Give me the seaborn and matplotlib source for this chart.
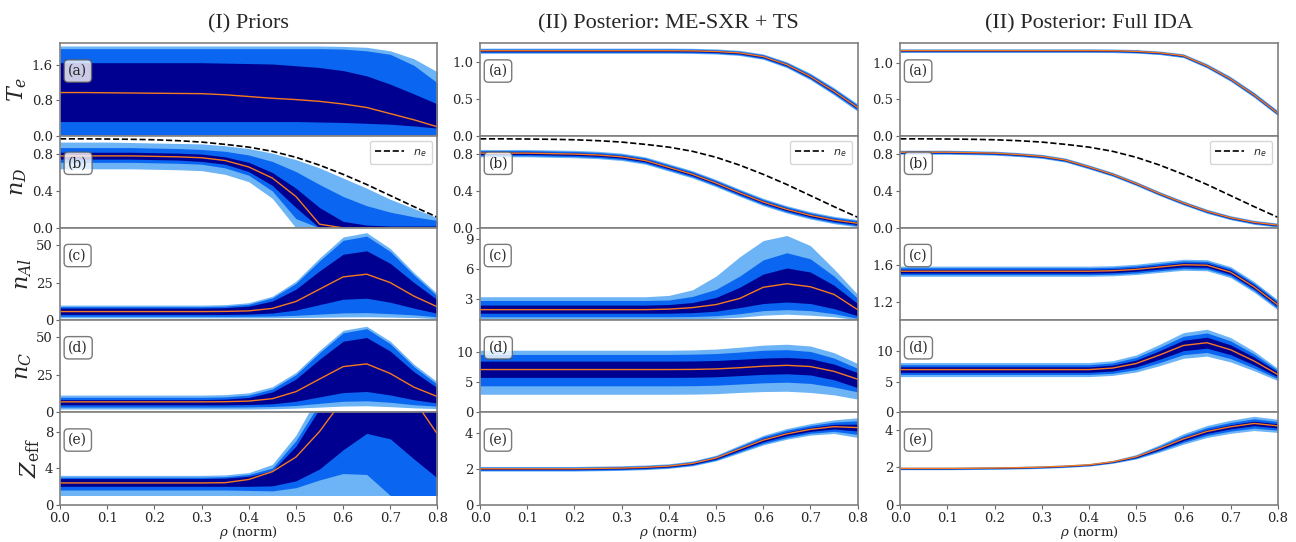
import matplotlib
matplotlib.use("Agg")
import matplotlib.pyplot as plt
import seaborn as sns
import numpy as np
from matplotlib.ticker import FormatStrFormatter

sns.set_style("white")
plt.rcParams["font.family"] = ["DejaVu Serif"]
plt.rcParams["mathtext.fontset"] = "dejavuserif"

rho = [0.0, 0.05, 0.1, 0.15, 0.2, 0.25, 0.3, 0.35, 0.4, 0.45, 0.5, 0.55, 0.6, 0.65, 0.7, 0.75, 0.8]

titles = ["(I) Priors", "(II) Posterior: ME-SXR + TS", "(II) Posterior: Full IDA"]
ylabels = ["$T_e$", "$n_D$", "$n_{Al}$", "$n_C$", "$Z_{\\rm eff}$"]
panel_tags = ["(a)", "(b)", "(c)", "(d)", "(e)"]

ne = [0.965, 0.965, 0.963, 0.96, 0.955, 0.945, 0.93, 0.905, 0.875, 0.83, 0.765, 0.68, 0.58, 0.47, 0.35, 0.23, 0.115]

# ---- priors (explicit band edges: lo3 < lo2 < lo1 < med < hi1 < hi2 < hi3)
te_pr_hi3 = [2.04, 2.04, 2.04, 2.04, 2.04, 2.04, 2.04, 2.04, 2.04, 2.04, 2.04, 2.04, 2.03, 2.01, 1.93, 1.75, 1.45]
te_pr_hi2 = [1.98, 1.98, 1.98, 1.98, 1.98, 1.98, 1.98, 1.98, 1.98, 1.98, 1.98, 1.98, 1.97, 1.93, 1.85, 1.6, 1.2]
te_pr_hi1 = [1.66, 1.66, 1.66, 1.66, 1.66, 1.66, 1.66, 1.65, 1.64, 1.63, 1.59, 1.55, 1.48, 1.36, 1.17, 0.95, 0.72]
te_pr_med = [0.98, 0.98, 0.975, 0.97, 0.965, 0.96, 0.955, 0.93, 0.89, 0.85, 0.82, 0.78, 0.72, 0.64, 0.50, 0.36, 0.20]
te_pr_lo1 = [0.32, 0.32, 0.32, 0.32, 0.32, 0.32, 0.32, 0.32, 0.32, 0.32, 0.32, 0.31, 0.30, 0.28, 0.26, 0.22, 0.17]
te_pr_lo2 = [0.0] * 17
te_pr_lo3 = [0.0] * 17

nd_pr_hi3 = [0.93, 0.93, 0.93, 0.925, 0.92, 0.915, 0.91, 0.89, 0.86, 0.81, 0.74, 0.65, 0.54, 0.43, 0.31, 0.21, 0.11]
nd_pr_hi2 = [0.87, 0.87, 0.87, 0.87, 0.865, 0.86, 0.85, 0.83, 0.79, 0.72, 0.61, 0.47, 0.34, 0.24, 0.17, 0.12, 0.08]
nd_pr_hi1 = [0.82, 0.82, 0.82, 0.82, 0.815, 0.81, 0.80, 0.77, 0.71, 0.60, 0.43, 0.22, 0.07, 0.03, 0.02, 0.02, 0.02]
nd_pr_med = [0.78, 0.78, 0.78, 0.78, 0.775, 0.77, 0.76, 0.73, 0.66, 0.54, 0.34, 0.04, 0.0, 0.0, 0.0, 0.0, 0.0]
nd_pr_lo1 = [0.745, 0.745, 0.745, 0.745, 0.74, 0.735, 0.72, 0.69, 0.61, 0.46, 0.22, 0.0, 0.0, 0.0, 0.0, 0.0, 0.0]
nd_pr_lo2 = [0.71, 0.71, 0.71, 0.71, 0.705, 0.70, 0.69, 0.65, 0.57, 0.40, 0.10, 0.0, 0.0, 0.0, 0.0, 0.0, 0.0]
nd_pr_lo3 = [0.64, 0.64, 0.64, 0.64, 0.635, 0.63, 0.62, 0.58, 0.50, 0.32, 0.0, 0.0, 0.0, 0.0, 0.0, 0.0, 0.0]

nal_pr_hi3 = [10.0, 10.0, 10.0, 10.0, 10.0, 10.0, 10.0, 10.3, 11.6, 15.9, 25.9, 41.4, 55.4, 58.3, 47.7, 31.7, 17.5]
nal_pr_hi2 = [9.0, 9.0, 9.0, 9.0, 9.0, 9.0, 9.0, 9.3, 10.6, 14.8, 24.5, 39.5, 53.2, 56.0, 45.7, 30.1, 16.0]
nal_pr_hi1 = [8.0, 8.0, 8.0, 8.0, 8.0, 8.0, 8.0, 8.3, 9.3, 12.7, 20.6, 32.8, 43.9, 46.2, 37.8, 25.1, 13.5]
nal_pr_med = [5.7, 5.7, 5.7, 5.7, 5.7, 5.7, 5.7, 5.8, 6.15, 7.8, 12.4, 20.6, 28.8, 30.6, 25.0, 16.0, 8.8]
nal_pr_lo1 = [3.8, 3.8, 3.8, 3.8, 3.8, 3.8, 3.8, 3.8, 4.0, 4.7, 6.7, 10.3, 13.9, 14.6, 11.9, 8.0, 4.5]
nal_pr_lo2 = [2.5, 2.5, 2.5, 2.5, 2.5, 2.5, 2.5, 2.5, 2.55, 2.7, 3.2, 4.0, 4.8, 5.0, 4.3, 3.5, 2.2]
nal_pr_lo3 = [1.5, 1.5, 1.5, 1.5, 1.5, 1.5, 1.5, 1.5, 1.5, 1.55, 1.7, 1.9, 2.1, 2.2, 2.0, 1.7, 1.0]

nc_pr_hi3 = [11.5, 11.5, 11.5, 11.5, 11.5, 11.5, 11.5, 11.8, 13.0, 17.1, 26.6, 41.3, 54.7, 57.4, 47.4, 32.1, 20.2]
nc_pr_hi2 = [10.0, 10.0, 10.0, 10.0, 10.0, 10.0, 10.0, 10.3, 11.5, 15.6, 25.1, 39.7, 53.0, 55.8, 45.7, 30.5, 18.6]
nc_pr_hi1 = [8.5, 8.5, 8.5, 8.5, 8.5, 8.5, 8.5, 8.8, 9.9, 13.6, 22.2, 35.4, 47.4, 49.9, 40.8, 27.1, 16.3]
nc_pr_med = [7.0, 7.0, 7.0, 7.0, 7.0, 7.0, 7.0, 7.1, 7.5, 9.1, 13.8, 22.2, 30.5, 32.3, 25.9, 16.8, 10.5]
nc_pr_lo1 = [5.0, 5.0, 5.0, 5.0, 5.0, 5.0, 5.0, 5.0, 5.2, 5.7, 7.4, 10.3, 13.2, 13.9, 11.6, 8.4, 6.2]
nc_pr_lo2 = [3.5, 3.5, 3.5, 3.5, 3.5, 3.5, 3.5, 3.5, 3.6, 3.9, 4.6, 6.0, 7.4, 7.7, 6.7, 5.1, 4.1]
nc_pr_lo3 = [2.2, 2.2, 2.2, 2.2, 2.2, 2.2, 2.2, 2.2, 2.2, 2.4, 2.8, 3.5, 4.2, 4.4, 3.8, 3.0, 2.5]

zf_pr_hi3 = [3.2, 3.2, 3.2, 3.2, 3.2, 3.2, 3.2, 3.25, 3.5, 4.4, 7.6, 12.2, 16.0, 16.0, 16.0, 16.0, 16.0]
zf_pr_hi2 = [3.0, 3.0, 3.0, 3.0, 3.0, 3.0, 3.0, 3.05, 3.3, 4.0, 7.0, 11.1, 15.0, 15.0, 15.0, 15.0, 15.0]
zf_pr_hi1 = [2.85, 2.85, 2.85, 2.85, 2.85, 2.85, 2.85, 2.9, 3.1, 3.7, 6.4, 10.5, 14.5, 14.5, 14.5, 14.5, 14.5]
zf_pr_med = [2.37, 2.37, 2.37, 2.37, 2.37, 2.37, 2.37, 2.4, 2.75, 3.6, 5.2, 8.0, 11.5, 13.5, 13.0, 11.5, 7.7]
zf_pr_lo1 = [2.0, 2.0, 2.0, 2.0, 2.0, 2.0, 2.0, 2.0, 2.0, 2.05, 2.6, 3.9, 6.0, 7.8, 7.2, 5.0, 2.9]
zf_pr_lo2 = [1.6, 1.6, 1.6, 1.6, 1.6, 1.6, 1.6, 1.6, 1.55, 1.5, 1.85, 2.7, 3.4, 3.3, 1.0, 1.0, 1.0]
zf_pr_lo3 = [1.0] * 17

# ---- posterior ME-SXR + TS
te_ts_med = [1.15, 1.15, 1.15, 1.15, 1.15, 1.15, 1.15, 1.15, 1.15, 1.148, 1.14, 1.12, 1.07, 0.96, 0.80, 0.60, 0.38]
te_ts_w3 = [0.035, 0.035, 0.035, 0.035, 0.035, 0.035, 0.035, 0.035, 0.035, 0.035, 0.035, 0.035, 0.037, 0.04, 0.045, 0.05, 0.05]
te_ts_w2 = [0.024, 0.024, 0.024, 0.024, 0.024, 0.024, 0.024, 0.024, 0.024, 0.024, 0.024, 0.024, 0.026, 0.028, 0.031, 0.034, 0.034]
te_ts_w1 = [0.012, 0.012, 0.012, 0.012, 0.012, 0.012, 0.012, 0.012, 0.012, 0.012, 0.012, 0.012, 0.013, 0.014, 0.016, 0.017, 0.017]

nd_ts_med = [0.81, 0.81, 0.81, 0.805, 0.80, 0.79, 0.77, 0.73, 0.655, 0.58, 0.485, 0.38, 0.28, 0.20, 0.135, 0.085, 0.05]
nd_ts_w3 = [0.04] * 17
nd_ts_w2 = [0.028] * 17
nd_ts_w1 = [0.014] * 17

nal_ts_hi3 = [3.27, 3.27, 3.27, 3.27, 3.27, 3.27, 3.27, 3.27, 3.4, 3.95, 5.3, 7.2, 8.8, 9.3, 8.3, 6.0, 3.5]
nal_ts_hi2 = [2.9, 2.9, 2.9, 2.9, 2.9, 2.9, 2.9, 2.9, 2.95, 3.3, 4.0, 5.3, 6.9, 7.6, 7.0, 5.3, 3.1]
nal_ts_hi1 = [2.45, 2.45, 2.45, 2.45, 2.45, 2.45, 2.45, 2.45, 2.5, 2.7, 3.2, 4.2, 5.5, 6.1, 5.7, 4.4, 2.6]
nal_ts_med = [2.0, 2.0, 2.0, 2.0, 2.0, 2.0, 2.0, 2.0, 2.05, 2.2, 2.5, 3.1, 4.2, 4.55, 4.25, 3.5, 2.0]
nal_ts_lo1 = [1.65, 1.65, 1.65, 1.65, 1.65, 1.65, 1.65, 1.65, 1.65, 1.7, 1.85, 2.2, 2.6, 2.75, 2.6, 2.1, 1.4]
nal_ts_lo2 = [1.3, 1.3, 1.3, 1.3, 1.3, 1.3, 1.3, 1.3, 1.3, 1.32, 1.4, 1.6, 1.9, 2.0, 1.9, 1.6, 1.15]
nal_ts_lo3 = [1.1, 1.1, 1.1, 1.1, 1.1, 1.1, 1.1, 1.1, 1.1, 1.1, 1.15, 1.25, 1.45, 1.55, 1.45, 1.3, 1.0]

nc_ts_hi3 = [10.3, 10.3, 10.3, 10.3, 10.3, 10.3, 10.3, 10.3, 10.3, 10.35, 10.5, 10.8, 11.15, 11.3, 11.0, 9.9, 8.1]
nc_ts_hi2 = [9.6, 9.6, 9.6, 9.6, 9.6, 9.6, 9.6, 9.6, 9.6, 9.65, 9.75, 10.0, 10.3, 10.4, 10.1, 9.0, 7.3]
nc_ts_hi1 = [8.5, 8.5, 8.5, 8.5, 8.5, 8.5, 8.5, 8.5, 8.5, 8.52, 8.6, 8.8, 9.0, 9.1, 8.9, 8.0, 6.6]
nc_ts_med = [7.1, 7.1, 7.1, 7.1, 7.1, 7.1, 7.1, 7.1, 7.1, 7.12, 7.2, 7.4, 7.65, 7.8, 7.6, 6.8, 5.5]
nc_ts_lo1 = [5.8, 5.8, 5.8, 5.8, 5.8, 5.8, 5.8, 5.8, 5.8, 5.82, 5.9, 6.1, 6.3, 6.4, 6.2, 5.4, 4.1]
nc_ts_lo2 = [4.4, 4.4, 4.4, 4.4, 4.4, 4.4, 4.4, 4.4, 4.4, 4.42, 4.5, 4.7, 4.9, 5.0, 4.8, 4.2, 3.4]
nc_ts_lo3 = [3.0, 3.0, 3.0, 3.0, 3.0, 3.0, 3.0, 3.0, 3.0, 3.02, 3.1, 3.3, 3.45, 3.5, 3.3, 2.9, 2.2]

zf_ts_med = [2.0, 2.0, 2.0, 2.0, 2.0, 2.02, 2.04, 2.08, 2.15, 2.3, 2.6, 3.1, 3.6, 3.95, 4.2, 4.35, 4.3]
zf_ts_w3 = [0.13, 0.13, 0.13, 0.13, 0.13, 0.13, 0.13, 0.13, 0.13, 0.14, 0.16, 0.22, 0.27, 0.3, 0.32, 0.38, 0.55]
zf_ts_w2 = [0.09, 0.09, 0.09, 0.09, 0.09, 0.09, 0.09, 0.09, 0.09, 0.1, 0.11, 0.15, 0.19, 0.21, 0.22, 0.26, 0.38]
zf_ts_w1 = [0.045, 0.045, 0.045, 0.045, 0.045, 0.045, 0.045, 0.045, 0.045, 0.05, 0.055, 0.075, 0.09, 0.1, 0.11, 0.13, 0.19]

# ---- posterior full IDA
te_ida_med = [1.17, 1.17, 1.17, 1.17, 1.17, 1.17, 1.17, 1.17, 1.17, 1.168, 1.16, 1.14, 1.10, 0.96, 0.78, 0.56, 0.31]
te_ida_w3 = [0.025, 0.025, 0.025, 0.025, 0.025, 0.025, 0.025, 0.025, 0.025, 0.025, 0.025, 0.025, 0.027, 0.03, 0.033, 0.035, 0.035]
te_ida_w2 = [0.017, 0.017, 0.017, 0.017, 0.017, 0.017, 0.017, 0.017, 0.017, 0.017, 0.017, 0.017, 0.018, 0.02, 0.022, 0.024, 0.024]
te_ida_w1 = [0.008, 0.008, 0.008, 0.008, 0.008, 0.008, 0.008, 0.008, 0.008, 0.008, 0.008, 0.008, 0.009, 0.01, 0.011, 0.012, 0.012]

nd_ida_med = [0.82, 0.82, 0.82, 0.815, 0.81, 0.795, 0.775, 0.735, 0.66, 0.58, 0.48, 0.37, 0.27, 0.18, 0.11, 0.06, 0.03]
nd_ida_w3 = [0.022] * 17
nd_ida_w2 = [0.015] * 17
nd_ida_w1 = [0.007] * 17

nal_ida_med = [1.53, 1.53, 1.53, 1.53, 1.53, 1.53, 1.53, 1.53, 1.53, 1.535, 1.55, 1.575, 1.60, 1.595, 1.52, 1.36, 1.165]
nal_ida_w3 = [0.055, 0.055, 0.055, 0.055, 0.055, 0.055, 0.055, 0.055, 0.055, 0.055, 0.056, 0.058, 0.06, 0.06, 0.06, 0.058, 0.055]
nal_ida_w2 = [0.038, 0.038, 0.038, 0.038, 0.038, 0.038, 0.038, 0.038, 0.038, 0.038, 0.039, 0.04, 0.042, 0.042, 0.042, 0.04, 0.038]
nal_ida_w1 = [0.02, 0.02, 0.02, 0.02, 0.02, 0.02, 0.02, 0.02, 0.02, 0.02, 0.02, 0.021, 0.022, 0.022, 0.022, 0.021, 0.02]

nc_ida_med = [7.0, 7.0, 7.0, 7.0, 7.0, 7.0, 7.0, 7.0, 7.0, 7.25, 8.0, 9.4, 10.95, 11.4, 10.25, 8.4, 6.2]
nc_ida_w3 = [1.15, 1.15, 1.15, 1.15, 1.15, 1.15, 1.15, 1.15, 1.15, 1.2, 1.4, 1.75, 2.1, 2.2, 2.0, 1.6, 1.0]
nc_ida_w2 = [0.8, 0.8, 0.8, 0.8, 0.8, 0.8, 0.8, 0.8, 0.8, 0.85, 1.0, 1.25, 1.5, 1.6, 1.45, 1.15, 0.7]
nc_ida_w1 = [0.45, 0.45, 0.45, 0.45, 0.45, 0.45, 0.45, 0.45, 0.45, 0.48, 0.55, 0.7, 0.85, 0.9, 0.8, 0.65, 0.4]

zf_ida_med = [1.93, 1.93, 1.93, 1.94, 1.95, 1.97, 2.0, 2.05, 2.12, 2.28, 2.55, 3.0, 3.5, 3.9, 4.15, 4.33, 4.2]
zf_ida_w3 = [0.07, 0.07, 0.07, 0.07, 0.07, 0.07, 0.07, 0.07, 0.07, 0.08, 0.12, 0.2, 0.28, 0.32, 0.35, 0.38, 0.35]
zf_ida_w2 = [0.045, 0.045, 0.045, 0.045, 0.045, 0.045, 0.045, 0.045, 0.045, 0.05, 0.08, 0.13, 0.18, 0.21, 0.23, 0.25, 0.23]
zf_ida_w1 = [0.022, 0.022, 0.022, 0.022, 0.022, 0.022, 0.022, 0.022, 0.022, 0.025, 0.04, 0.065, 0.09, 0.1, 0.11, 0.12, 0.11]

# axis settings per panel (row, col)
ylims = [[(0, 2.1), (0, 1.25), (0, 1.27)],
         [(0, 1.0), (0, 1.0), (0, 1.0)],
         [(0, 61.5), (0.97, 10.05), (1.0, 2.0)],
         [(0, 61.5), (0, 15.3), (0, 15.1)],
         [(0, 10.1), (0, 5.15), (0, 4.92)]]
yticks = [[[0, 0.8, 1.6], [0, 0.5, 1.0], [0, 0.5, 1.0]],
          [[0, 0.4, 0.8], [0, 0.4, 0.8], [0, 0.4, 0.8]],
          [[0, 25, 50], [3, 6, 9], [1.2, 1.6]],
          [[0, 25, 50], [0, 5, 10], [0, 5, 10]],
          [[0, 4, 8], [0, 2, 4], [0, 2, 4]]]
yfmt = [["%.1f"] * 3, ["%.1f"] * 3, ["%d", "%d", "%.1f"], ["%d"] * 3, ["%d"] * 3]

LIGHT = "#6cb4f5"
BLUE = "#0a66f0"
NAVY = "#000090"
ORANGE = "#f57a1e"


def sym(med, w):
    m = np.array(med)
    w = np.array(w)
    return m - w, m + w


def draw(ax, med, lo1, hi1, lo2, hi2, lo3, hi3):
    ax.fill_between(rho, lo3, hi3, color=LIGHT, lw=0)
    ax.fill_between(rho, lo2, hi2, color=BLUE, lw=0)
    ax.fill_between(rho, lo1, hi1, color=NAVY, lw=0)
    sns.lineplot(x=rho, y=med, ax=ax, color=ORANGE, lw=1.0, legend=False)


fig, axes = plt.subplots(5, 3, figsize=(12.96, 5.42), dpi=100, sharex=True)
plt.subplots_adjust(left=0.0463, right=0.9859, top=0.920, bottom=0.069, hspace=0, wspace=0.113)

# priors
draw(axes[0, 0], te_pr_med, te_pr_lo1, te_pr_hi1, te_pr_lo2, te_pr_hi2, te_pr_lo3, te_pr_hi3)
draw(axes[1, 0], nd_pr_med, nd_pr_lo1, nd_pr_hi1, nd_pr_lo2, nd_pr_hi2, nd_pr_lo3, nd_pr_hi3)
draw(axes[2, 0], nal_pr_med, nal_pr_lo1, nal_pr_hi1, nal_pr_lo2, nal_pr_hi2, nal_pr_lo3, nal_pr_hi3)
draw(axes[3, 0], nc_pr_med, nc_pr_lo1, nc_pr_hi1, nc_pr_lo2, nc_pr_hi2, nc_pr_lo3, nc_pr_hi3)
draw(axes[4, 0], zf_pr_med, zf_pr_lo1, zf_pr_hi1, zf_pr_lo2, zf_pr_hi2, zf_pr_lo3, zf_pr_hi3)

# ME-SXR + TS
draw(axes[0, 1], te_ts_med, *sym(te_ts_med, te_ts_w1), *sym(te_ts_med, te_ts_w2), *sym(te_ts_med, te_ts_w3))
draw(axes[1, 1], nd_ts_med, *sym(nd_ts_med, nd_ts_w1), *sym(nd_ts_med, nd_ts_w2), *sym(nd_ts_med, nd_ts_w3))
draw(axes[2, 1], nal_ts_med, nal_ts_lo1, nal_ts_hi1, nal_ts_lo2, nal_ts_hi2, nal_ts_lo3, nal_ts_hi3)
draw(axes[3, 1], nc_ts_med, nc_ts_lo1, nc_ts_hi1, nc_ts_lo2, nc_ts_hi2, nc_ts_lo3, nc_ts_hi3)
draw(axes[4, 1], zf_ts_med, *sym(zf_ts_med, zf_ts_w1), *sym(zf_ts_med, zf_ts_w2), *sym(zf_ts_med, zf_ts_w3))

# Full IDA
draw(axes[0, 2], te_ida_med, *sym(te_ida_med, te_ida_w1), *sym(te_ida_med, te_ida_w2), *sym(te_ida_med, te_ida_w3))
draw(axes[1, 2], nd_ida_med, *sym(nd_ida_med, nd_ida_w1), *sym(nd_ida_med, nd_ida_w2), *sym(nd_ida_med, nd_ida_w3))
draw(axes[2, 2], nal_ida_med, *sym(nal_ida_med, nal_ida_w1), *sym(nal_ida_med, nal_ida_w2), *sym(nal_ida_med, nal_ida_w3))
draw(axes[3, 2], nc_ida_med, *sym(nc_ida_med, nc_ida_w1), *sym(nc_ida_med, nc_ida_w2), *sym(nc_ida_med, nc_ida_w3))
draw(axes[4, 2], zf_ida_med, *sym(zf_ida_med, zf_ida_w1), *sym(zf_ida_med, zf_ida_w2), *sym(zf_ida_med, zf_ida_w3))

for c in range(3):
    ax = axes[1, c]
    sns.lineplot(x=rho, y=ne, ax=ax, color="black", lw=1.2, linestyle="--", label="$n_e$")
    leg = ax.legend(loc="upper right", prop=dict(size=8, math_fontfamily="dejavusans"),
                    handlelength=2.6, fancybox=True, borderpad=0.5)
    leg.get_frame().set_edgecolor("0.8")

for r in range(5):
    for c in range(3):
        ax = axes[r, c]
        ax.set_xlim(0, 0.8)
        ax.set_ylim(*ylims[r][c])
        ax.set_yticks(yticks[r][c])
        ax.yaxis.set_major_formatter(FormatStrFormatter(yfmt[r][c]))
        ax.tick_params(axis="both", which="major", labelsize=9.5, length=3, width=0.8, pad=2,
                       color="0.4", direction="out", left=True, bottom=(r == 4))
        for s in ax.spines.values():
            s.set_color("0.5")
            s.set_linewidth(1.2)
        ax.text(0.022, 0.70, panel_tags[r], transform=ax.transAxes, fontsize=10,
                ha="left", va="center",
                bbox=dict(boxstyle="round,pad=0.3", fc="white", ec="0.35", alpha=0.8, lw=1.0))
        if c == 0:
            ax.set_ylabel(ylabels[r], fontsize=16, labelpad=2)
        if r == 4:
            ax.set_xticks([0.0, 0.1, 0.2, 0.3, 0.4, 0.5, 0.6, 0.7, 0.8])
            ax.xaxis.set_major_formatter(FormatStrFormatter("%.1f"))
            ax.set_xlabel("$\\rho$ (norm)", fontsize=9.5)
            ax.xaxis.set_label_coords(0.5, -0.205)

for c in range(3):
    axes[0, c].set_title(titles[c], fontsize=16, family="Liberation Serif", pad=11)

plt.savefig("out.png", dpi=100)
